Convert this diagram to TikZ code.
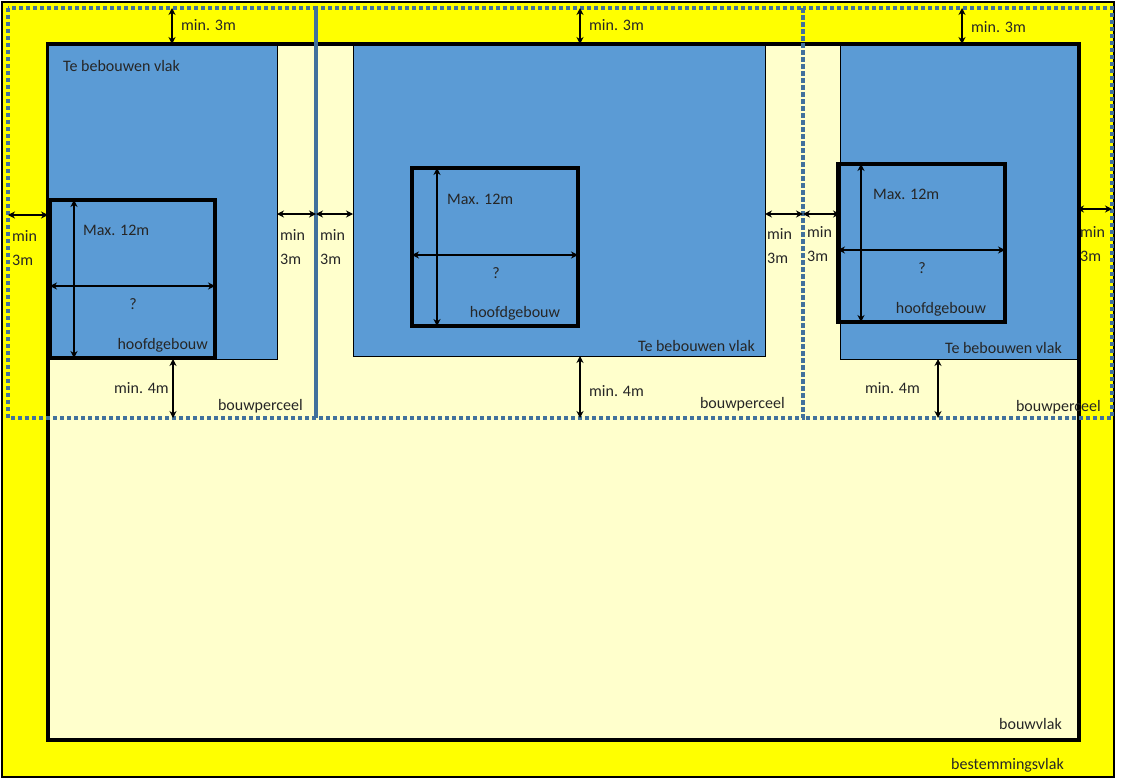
\documentclass[tikz,border=0pt]{standalone}
\usepackage{fontspec}
\setmainfont{Carlito}
\usetikzlibrary{positioning, arrows.meta}
\definecolor{geel}{HTML}{FFFF00}
\definecolor{lichtgeel}{HTML}{FFFFCC}
\definecolor{vlakblauw}{HTML}{5B9BD5}
\definecolor{stipblauw}{HTML}{41719C}
\begin{document}
\begin{tikzpicture}[x=1pt, y=-1pt,
  maat/.style={{Stealth[length=7pt,width=7pt]}-{Stealth[length=7pt,width=7pt]}, line width=1.2pt},
  perceel/.style={stipblauw, line width=3.5pt, dash pattern=on 4pt off 3pt},
  gebouw/.style={draw=black, line width=3.5pt},
  tekst/.style={inner sep=0pt, font=\fontsize{16}{19}\selectfont, text=black!85}]
  \useasboundingbox (0,0) rectangle (1122,784);
  % bestemmingsvlak en bouwvlak
  \draw[fill=geel, line width=1.5pt] (2,2) rectangle (1114,777);
  \draw[fill=lichtgeel, line width=3.5pt] (48,44) rectangle (1079,740);
  % te bebouwen vlakken
  \draw[fill=vlakblauw, line width=1pt] (48,44) rectangle (277,359);
  \draw[fill=vlakblauw, line width=1pt] (353,44) rectangle (765,356);
  \draw[fill=vlakblauw, line width=1pt] (840,44) rectangle (1077,359);
  \draw[line width=3.5pt] (48,44) -- (1079,44);
  % hoofdgebouwen
  \draw[gebouw] (50,200) rectangle (215,358);
  \draw[gebouw] (412,168) rectangle (578,326);
  \draw[gebouw] (838,164) rectangle (1005,322);
  % bouwpercelen
  \draw[perceel] (8,8) rectangle (316,418);
  \draw[perceel] (316,8) rectangle (803,418);
  \draw[perceel] (803,8) rectangle (1112,418);
  % maatlijnen
  \draw[maat] (172,8) -- (172,44);
  \draw[maat] (580,8) -- (580,44);
  \draw[maat] (962,8) -- (962,44);
  \draw[maat] (8,215) -- (48,215);
  \draw[maat] (277,214) -- (316,214);
  \draw[maat] (316,214) -- (353,214);
  \draw[maat] (765,214) -- (803,214);
  \draw[maat] (803,214) -- (840,214);
  \draw[maat] (1077,209) -- (1112,209);
  \draw[maat] (173,359) -- (173,418);
  \draw[maat] (580,356) -- (580,418);
  \draw[maat] (938,359) -- (938,418);
  \draw[maat] (74,200) -- (74,358);
  \draw[maat] (50,286) -- (215,286);
  \draw[maat] (437,168) -- (437,326);
  \draw[maat] (412,255) -- (578,255);
  \draw[maat] (861,164) -- (861,322);
  \draw[maat] (838,250) -- (1005,250);
  % teksten
  \node[tekst, anchor=west] (boven1) at (181,25) {min. 3m};
  \node[tekst, anchor=west] (boven2) at (589,25) {min. 3m};
  \node[tekst, anchor=west] (boven3) at (971,27) {min. 3m};
  \foreach \x/\y [count=\i] in {12/232, 280/231, 320/231, 767/230, 807/228, 1080/228}
    \node[tekst, anchor=west, align=left] (zij\i) at (\x,\y+16) {min\\[5pt]3m};
  \node[tekst, anchor=east] (onder1) at (169,388) {min. 4m};
  \node[tekst, anchor=west] (onder2) at (589,391) {min. 4m};
  \node[tekst, anchor=east] (onder3) at (920,388) {min. 4m};
  \node[tekst, anchor=east] (perceel1) at (303,406) {bouwperceel};
  \node[tekst, anchor=east] (perceel2) at (785,404) {bouwperceel};
  \node[tekst, anchor=east] (perceel3) at (1101,407) {bouwperceel};
  \node[tekst, anchor=west] (vlak1) at (63,66) {Te bebouwen vlak};
  \node[tekst, anchor=east] (vlak2) at (755,346) {Te bebouwen vlak};
  \node[tekst, anchor=east] (vlak3) at (1062,348) {Te bebouwen vlak};
  \node[tekst, anchor=west] (max1) at (83,230) {Max. 12m};
  \node[tekst, anchor=west] (max2) at (447,199) {Max. 12m};
  \node[tekst, anchor=west] (max3) at (873,194) {Max. 12m};
  \node[tekst] (vraag1) at (133,304) {?};
  \node[tekst] (vraag2) at (496,273) {?};
  \node[tekst] (vraag3) at (922,268) {?};
  \node[tekst, anchor=east] (hoofd1) at (208,345) {hoofdgebouw};
  \node[tekst] (hoofd2) at (515,313) {hoofdgebouw};
  \node[tekst] (hoofd3) at (941,309) {hoofdgebouw};
  \node[tekst, anchor=east] (bouwvlak) at (1062,724) {bouwvlak};
  \node[tekst, anchor=east] (bestemming) at (1064,765) {bestemmingsvlak};
\end{tikzpicture}
\end{document}
